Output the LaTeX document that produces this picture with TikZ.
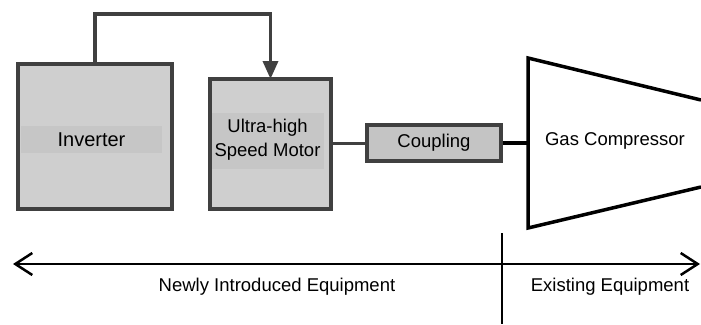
\documentclass[tikz,border=0pt]{standalone}
\usepackage{fontspec}
\setmainfont{Liberation Sans}
\usetikzlibrary{arrows.meta,calc}
\definecolor{boxfill}{RGB}{207,207,207}
\definecolor{labfill}{RGB}{198,198,198}
\definecolor{cplfill}{RGB}{196,196,196}
\definecolor{edge}{RGB}{64,64,64}
\tikzset{
  unitbox/.style={draw=edge, line width=4pt, fill=boxfill, inner sep=0pt, outer sep=0pt},
  labbg/.style={fill=labfill, inner sep=0pt, outer sep=0pt, align=center},
  wire/.style={draw=edge, line width=3.5pt},
  shaft/.style={line width=4pt, black},
  txt/.style={inner sep=0pt, font=\fontsize{18.5}{24}\selectfont, align=center},
}
\begin{document}
\begin{tikzpicture}[x=1pt,y=-1pt]
\useasboundingbox[fill=white] (0,0) rectangle (701,324);
% boxes
\node[unitbox, minimum width=154pt, minimum height=145pt] (inv) at (95,136.5) {};
\node[labbg, minimum width=141pt, minimum height=27pt] (invlab) at (91.5,139.5) {};
\node[txt, font=\fontsize{20}{24}\selectfont] (invtxt) at (91.5,139.5) {Inverter};
\node[unitbox, minimum width=121pt, minimum height=130pt] (mot) at (270.5,144) {};
\node[labbg, minimum width=112pt, minimum height=56pt] (motlab) at (268,141) {};
\node[txt] (mottxt) at (267.5,140) {Ultra-high\\Speed Motor};
\node[draw=edge, line width=3.5pt, fill=cplfill, inner sep=0pt, minimum width=134pt, minimum height=36pt, font=\fontsize{18.5}{24}\selectfont] (coup) at (434,143) {Coupling};
% compressor
\coordinate (compL) at (528,143);
\draw[line width=3.5pt, black, line join=miter] (701,100) -- (528,58) -- (528,228) -- (701,187);
\node[txt] (comp) at (615,141) {Gas Compressor};
% connectors
\coordinate (wtop) at (0,14);
\draw[wire, -{Triangle[length=18pt,width=15pt]}] (inv.north) -- (inv.north |- wtop) -| (mot.north);
\draw[draw=edge, line width=3pt] (mot.east |- coup.west) -- (coup.west);
\draw[shaft] (coup.east) -- (compL);
% bottom scale
\coordinate (bl) at (13,264);
\coordinate (br) at (700,264);
\draw[line width=2.2pt, black, {Straight Barb[length=17pt,width=22pt,line width=2.5pt]}-{Straight Barb[length=17pt,width=22pt,line width=2.5pt]}] (bl) -- (br);
\coordinate (dtop) at (502,233);
\coordinate (dbot) at (502,324);
\draw[line width=1.5pt, black] (dtop) -- (dbot);
\node[txt] (newtxt) at (277,287) {Newly Introduced Equipment};
\node[txt] (oldtxt) at (610,287) {Existing Equipment};
\end{tikzpicture}
\end{document}
